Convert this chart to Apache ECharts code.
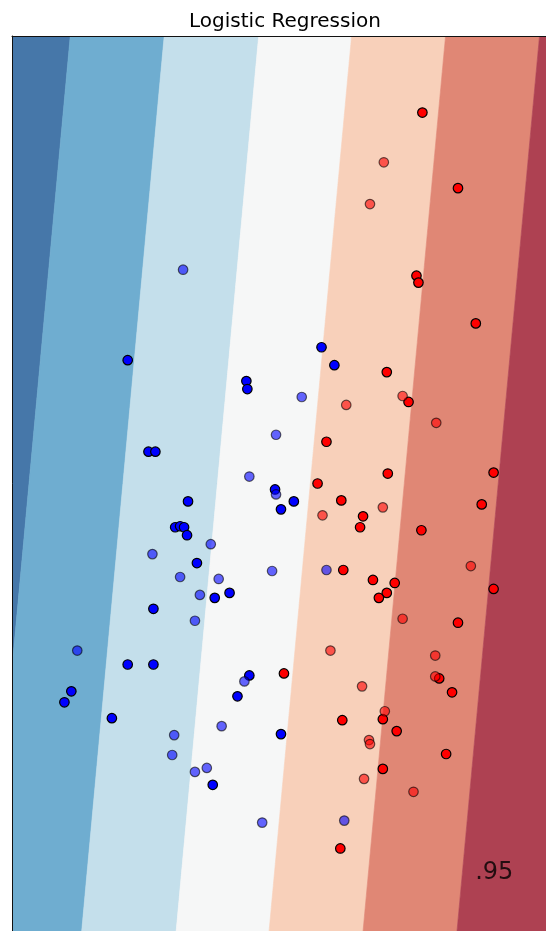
<!DOCTYPE html>
<html>
<head>
<meta charset="utf-8">
<script src="https://cdn.jsdelivr.net/npm/echarts@6/dist/echarts.min.js"></script>
<style>
  html, body { margin: 0; padding: 0; background: #fff; }
  #chart { width: 546px; height: 931px; }
</style>
</head>
<body>
<div id="chart"></div>
<script>
// ---- chart data ----
const chartTitle = 'Logistic Regression';
const scoreText = '.95';
const scoreAt = [5.07, 0.59];

const xRange = [0, 5.4];
const yRange = [0, 9.0];

// Linear decision score s = x - tilt * y; probability bands change at these score levels
const tilt = 0.0927;
const levelEdges = [-0.245, 0.705, 1.66, 2.60, 3.55, 4.50];
const bandColors = ['#4677a9', '#6fadd0', '#c4dfeb', '#f6f7f7', '#f8d0ba', '#e08775', '#ae4152'];

// class 1 (blue), training samples
const trainBlue = [
  [1.17, 5.74], [2.37, 5.53], [2.38, 5.45], [3.13, 5.87], [3.26, 5.69],
  [1.38, 4.82], [1.45, 4.82], [2.66, 4.44], [2.85, 4.32], [2.72, 4.24],
  [1.78, 4.32], [1.65, 4.06], [1.70, 4.07], [1.74, 4.06], [1.77, 3.98],
  [1.87, 3.70], [2.05, 3.35], [2.20, 3.40], [1.43, 3.24], [1.17, 2.68],
  [1.43, 2.68], [0.60, 2.41], [0.53, 2.30], [1.01, 2.14], [2.40, 2.57],
  [2.28, 2.36], [2.03, 1.47], [2.72, 1.98]
];
// class 1 (blue), test samples
const testBlue = [
  [2.93, 5.37], [2.67, 4.99], [2.40, 4.57], [2.67, 4.39], [2.01, 3.89],
  [1.42, 3.79], [1.70, 3.56], [2.09, 3.54], [1.90, 3.38], [1.85, 3.12],
  [2.63, 3.62], [3.18, 3.63], [1.73, 6.65], [0.66, 2.82], [2.35, 2.51],
  [2.12, 2.06], [1.64, 1.97], [1.62, 1.77], [1.85, 1.60], [1.97, 1.64],
  [2.53, 1.09], [3.36, 1.11]
];
// class 0 (red), training samples
const trainRed = [
  [4.15, 8.23], [4.51, 7.47], [4.09, 6.59], [4.11, 6.52], [4.69, 6.11],
  [3.79, 5.62], [4.01, 5.32], [3.18, 4.92], [3.80, 4.60], [4.87, 4.61],
  [3.09, 4.50], [3.33, 4.33], [4.75, 4.29], [3.55, 4.17], [3.52, 4.06],
  [4.14, 4.03], [3.35, 3.63], [3.65, 3.53], [3.87, 3.50], [3.79, 3.40],
  [3.71, 3.35], [4.87, 3.44], [4.51, 3.10], [2.75, 2.59], [4.32, 2.54],
  [4.45, 2.40], [3.75, 2.13], [3.34, 2.12], [3.89, 2.01], [4.39, 1.78],
  [3.75, 1.63], [3.32, 0.83]
];
// class 0 (red), test samples
const testRed = [
  [3.76, 7.73], [3.62, 7.31], [3.38, 5.29], [3.95, 5.38], [4.29, 5.11],
  [3.14, 4.18], [3.75, 4.26], [4.64, 3.67], [3.95, 3.14], [3.22, 2.82],
  [4.28, 2.77], [4.28, 2.56], [3.54, 2.46], [3.77, 2.21], [3.61, 1.92],
  [3.62, 1.88], [3.56, 1.53], [4.06, 1.40]
];

// ---- rendering ----
const FONT = 'DejaVu Sans';
const chart = echarts.init(document.getElementById('chart'), null, { renderer: 'canvas' });

function bandItem(params, api) {
  const k = api.value(0);
  const yLo = yRange[0] - 1, yHi = yRange[1] + 1;
  const leftX = y => (k === 0 ? xRange[0] - 3 : levelEdges[k - 1] + tilt * y);
  const rightX = y => (k === bandColors.length - 1 ? xRange[1] + 3 : levelEdges[k] + tilt * y);
  const pts = [
    [leftX(yLo), yLo], [rightX(yLo), yLo], [rightX(yHi), yHi], [leftX(yHi), yHi]
  ].map(p => api.coord(p));
  return {
    type: 'polygon',
    shape: { points: pts },
    style: { fill: bandColors[k], stroke: bandColors[k], lineWidth: 0.6 }
  };
}

function dots(data, color, alpha, z) {
  return {
    type: 'scatter',
    data: data,
    symbol: 'circle',
    symbolSize: 9.5,
    z: z,
    silent: true,
    itemStyle: { color: color, borderColor: '#000', borderWidth: 1.2, opacity: alpha },
    emphasis: { disabled: true }
  };
}

const axisCommon = {
  type: 'value',
  axisLine: { show: true, onZero: false, lineStyle: { color: '#111', width: 1 } },
  axisTick: { show: false },
  axisLabel: { show: false },
  splitLine: { show: false },
  z: 10
};

chart.setOption({
  animation: false,
  title: {
    text: chartTitle,
    left: 280,
    textAlign: 'center',
    top: 7,
    textStyle: { fontFamily: FONT, fontSize: 20, fontWeight: 'normal', color: '#000' }
  },
  grid: { left: 12, top: 36, width: 540, height: 900, show: false },
  xAxis: Object.assign({}, axisCommon, { min: xRange[0], max: xRange[1], position: 'top' }),
  yAxis: Object.assign({}, axisCommon, { min: yRange[0], max: yRange[1], position: 'left' }),
  series: [
    {
      type: 'custom',
      renderItem: bandItem,
      data: bandColors.map((c, i) => [i]),
      clip: true,
      silent: true,
      z: 1
    },
    dots(trainBlue, '#0000ff', 1, 3),
    dots(trainRed, '#ff0000', 1, 3),
    dots(testBlue, '#0000ff', 0.6, 4),
    dots(testRed, '#ff0000', 0.6, 4),
    {
      type: 'scatter',
      data: [scoreAt],
      symbolSize: 0,
      silent: true,
      z: 5,
      label: {
        show: true,
        formatter: scoreText,
        position: [0, 0],
        align: 'right',
        verticalAlign: 'middle',
        fontFamily: FONT,
        fontSize: 24,
        color: '#000'
      }
    }
  ]
});
</script>
</body>
</html>
